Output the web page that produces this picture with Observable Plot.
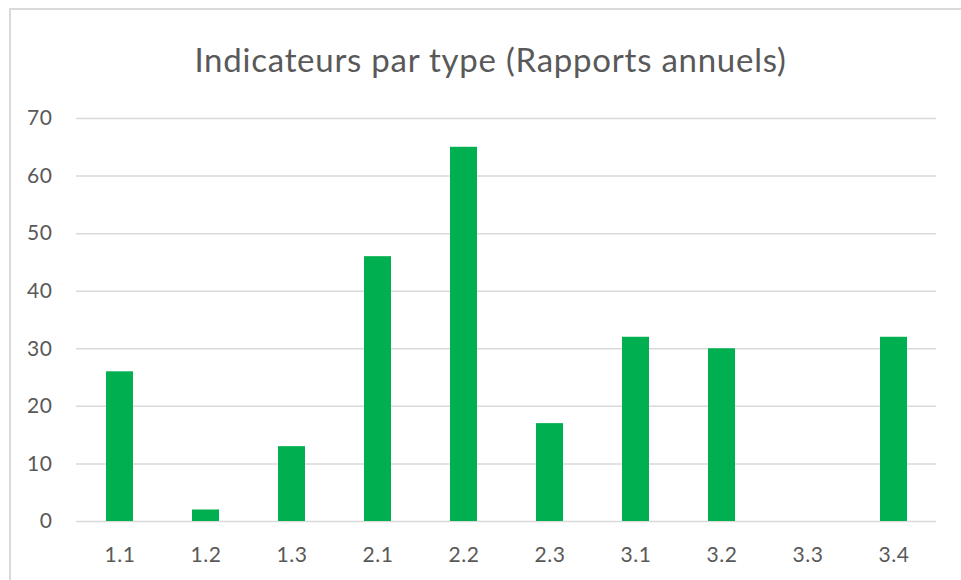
<!DOCTYPE html>
<html>
<head>
<meta charset="utf-8">
<script src="https://cdn.jsdelivr.net/npm/d3@7"></script>
<script src="https://cdn.jsdelivr.net/npm/@observablehq/plot@0.6"></script>
<style>
  body { margin: 0; background: #fff; }
  #wrap { position: relative; width: 961px; height: 580px; overflow: hidden; font-family: Lato, "Open Sans", sans-serif; }
  #frame { position: absolute; left: 9px; top: 8px; width: 960px; height: 580px; border-left: 2px solid #d9d9d9; border-top: 2px solid #d9d9d9; box-sizing: border-box; pointer-events: none; }
  #title { position: absolute; left: 0; top: 0; width: 961px; height: 100px; }
  #title div { position: absolute; left: 0; right: 0; top: 39px; text-align: center; font-size: 33px; letter-spacing: 0.75px; color: #595959; padding-left: 20px; }
  #chart { position: absolute; left: 0; top: 100px; }
  #chart svg text { letter-spacing: 0.6px; }
</style>
</head>
<body>
<div id="wrap">
  <div id="frame"></div>
  <div id="title"><div>Indicateurs par type (Rapports annuels)</div></div>
  <div id="chart"></div>
</div>
<script>
const categories = ["1.1", "1.2", "1.3", "2.1", "2.2", "2.3", "3.1", "3.2", "3.3", "3.4"];
const values = [26, 2, 13, 46, 65, 17, 32, 30, 0, 32];
const yTicks = [0, 10, 20, 30, 40, 50, 60, 70];

const data = categories.map((c, i) => ({ cat: c, value: values[i] }));

const plot = Plot.plot({
  width: 961,
  height: 480,
  marginTop: 18,
  marginBottom: 59,
  marginLeft: 76,
  marginRight: 25,
  style: { fontFamily: "Lato, 'Open Sans', sans-serif", color: "#595959", background: "transparent" },
  x: { domain: categories, paddingInner: 0.69, paddingOuter: 0.345, label: null },
  y: { domain: [0, 70], label: null },
  marks: [
    Plot.ruleY(yTicks, { stroke: "#d9d9d9", strokeWidth: 1.5 }),
    Plot.barY(data, { x: "cat", y: "value", fill: "#00b050" }),
    Plot.axisX({ tickSize: 0, tickPadding: 26, fontSize: 21, fill: "#595959", label: null }),
    Plot.axisY({ ticks: yTicks, tickSize: 0, tickPadding: 24, fontSize: 21, fill: "#595959", label: null })
  ]
});
document.getElementById("chart").appendChild(plot);
</script>
</body>
</html>
